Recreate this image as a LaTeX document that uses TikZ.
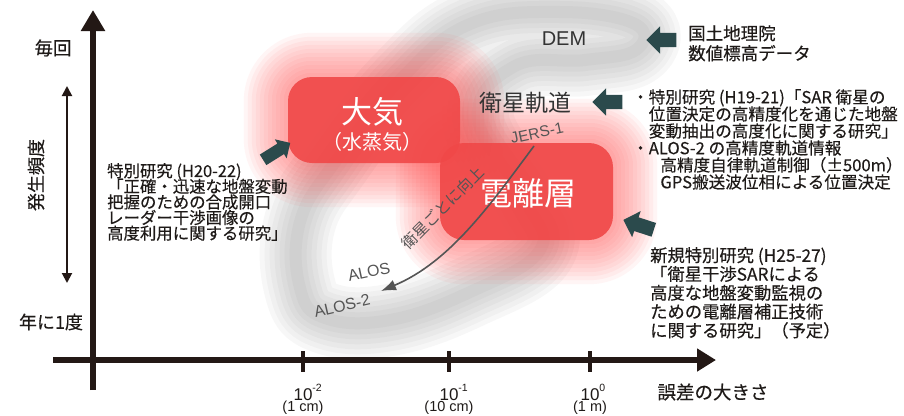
\documentclass[tikz,border=0pt]{standalone}
\usepackage{fontspec}
\setmainfont{Noto Sans CJK JP}
\newfontfamily\jpmed{Noto Sans CJK JP}[FakeBold=0.35]
\newfontfamily\latinfont{Liberation Sans}
\usetikzlibrary{arrows.meta,shapes.arrows,calc}
\definecolor{axiscol}{HTML}{231815}
\definecolor{txtcol}{HTML}{1E1A18}
\definecolor{boxred}{HTML}{F04848}
\definecolor{glowred}{HTML}{FF4040}
\definecolor{arrowcol}{HTML}{2B4A4C}
\definecolor{midgray}{HTML}{555555}
\definecolor{labgray}{HTML}{333333}
\pgfdeclarelayer{bg}
\pgfsetlayers{bg,main}
\newcommand\myfs[2]{\fontsize{#1}{#2}\selectfont\lineskiplimit=-100pt\lineskip=0pt}
\begin{document}
\begin{tikzpicture}[x=1pt,y=-1pt,
  axis/.style={line width=5.5pt, draw=axiscol},
  tickmark/.style={line width=4.3pt, draw=axiscol},
  redbox/.style={fill=boxred, fill opacity=0.9, rounded corners=24pt, draw=none, inner sep=0pt},
  boxtext/.style={text=white, inner sep=0pt},
  body/.style={align=left, anchor=north west, inner sep=0pt, text=txtcol},
  plain/.style={inner sep=0pt, text=txtcol},
  darrow/.style={single arrow, fill=arrowcol, draw=none, inner sep=0pt,
    text height=7pt, text depth=7pt, text width=0pt,
    minimum height=30pt, single arrow head extend=6.5pt, single arrow head indent=0pt},
  latin/.style={font=\latinfont\fontsize{#1}{#1}\selectfont},
]
\useasboundingbox (0,0) rectangle (904,415);

% red boxes
\node[redbox, minimum width=172pt, minimum height=86pt] (atmbox) at (374,120) {};
\node[redbox, minimum width=173pt, minimum height=97pt] (ionbox) at (526.5,191.5) {};

\begin{pgfonlayer}{bg}
  % gray blurred loop
  \foreach \w in {72,62,52,42,32,22,12}{
    \draw[black!60, opacity=0.05, line width=\w pt, line join=round]
      plot[smooth cycle, tension=0.7] coordinates {
        (470,24) (560,12) (635,24) (636,50) (585,60) (515,66) (478,118) (525,200)
        (540,250) (470,292) (390,320) (325,318) (300,288) (300,222) (335,162) (400,80)};
  }
  % red glow
  \foreach \e [evaluate=\e as \r using {24+\e}] in {4,8,...,44}{
    \fill[glowred, opacity=0.055, rounded corners=\r pt]
      ($(atmbox.north west)+(-\e,-\e)$) rectangle ($(atmbox.south east)+(\e,\e)$);
    \fill[glowred, opacity=0.055, rounded corners=\r pt]
      ($(ionbox.north west)+(-\e,-\e)$) rectangle ($(ionbox.south east)+(\e,\e)$);
  }
\end{pgfonlayer}

\node[boxtext, font=\myfs{31}{31}] (atmtext) at (372,112) {大気};
\node[boxtext, font=\myfs{20}{20}] (vaptext) at (372,142) {（水蒸気）};
\node[boxtext, font=\myfs{32}{32}] (iontext) at (528,193) {電離層};

% axes
\coordinate (ybot) at (93,390);
\coordinate (ytop) at (93,10);
\coordinate (xleft) at (53,360);
\coordinate (xright) at (716,360);
\draw[axis, -{Triangle[length=21pt,width=23pt]}] (ybot) -- (ytop);
\draw[axis, -{Triangle[length=19pt,width=22pt]}] (xleft) -- (xright);
\foreach \x/\n in {303/a,449/b,590/c}{
  \coordinate (tk\n1) at (\x,351);
  \coordinate (tk\n2) at (\x,372);
  \draw[tickmark] (tk\n1) -- (tk\n2);
}
\node[plain, latin=17] (t1) at (303,392.5) {10\rlap{\raisebox{0.55em}{\fontsize{10.5}{10.5}\selectfont -2}}};
\node[plain, latin=17] (t2) at (449,392.5) {10\rlap{\raisebox{0.55em}{\fontsize{10.5}{10.5}\selectfont -1}}};
\node[plain, latin=17] (t3) at (590,392.5) {10\rlap{\raisebox{0.55em}{\fontsize{10.5}{10.5}\selectfont 0}}};
\node[plain, latin=14.5] (c1) at (303,408) {(1 cm)};
\node[plain, latin=14.5] (c2) at (449,408) {(10 cm)};
\node[plain, latin=14.5] (c3) at (590,408) {(1 m)};
\node[plain, font=\jpmed\myfs{18.5}{18.5}] (errlab) at (713,392) {誤差の大きさ};

% y axis labels
\node[plain, font=\jpmed\myfs{18.5}{18.5}] (every) at (53,48) {毎回};
\node[plain, font=\jpmed\myfs{18}{18}] (yearly) at (51,322) {年に1度};
\node[plain, font=\jpmed\myfs{18}{18}, rotate=90] (freq) at (36,175) {発生頻度};
\coordinate (dtop) at (67,86);
\coordinate (dbot) at (67,283);
\draw[line width=2pt, draw=axiscol, {Triangle[length=10pt,width=10pt]}-{Triangle[length=10pt,width=10pt]}] (dtop) -- (dbot);

% labels in plot
\node[plain, font=\myfs{23}{23}, text=labgray] (orbit) at (525,103) {衛星軌道};
\node[plain, latin=20, text=labgray] (dem) at (564,39) {DEM};
\node[plain, latin=15.5, text=midgray, rotate=12] (jers) at (537,133) {JERS-1};
\node[plain, latin=16, text=midgray, rotate=12] (alos) at (369,272) {ALOS};
\node[plain, latin=16, text=midgray, rotate=13] (alos2) at (342,306) {ALOS-2};
\node[plain, font=\myfs{15.5}{15.5}, text=midgray, rotate=45] (improve) at (443,208) {衛星ごとに向上};
\coordinate (cs) at (534,146);
\coordinate (ce) at (381,291);
\draw[midgray, line width=1.6pt, -{Latex[length=15pt,width=11pt]}] (cs) .. controls (490,205) and (450,262) .. (ce);

% notes
\node[body, font=\jpmed\myfs{16.4}{15.6}] (leftnote) at (107,163)
  {特別研究 (H20-22)\\「正確・迅速な地盤変動\\把握のための合成開口\\レーダー干渉画像の\\高度利用に関する研究」};
\node[body, font=\jpmed\myfs{17.5}{20}] (demnote) at (688,25) {国土地理院\\数値標高データ};
\node[body, font=\jpmed\myfs{16.6}{17}] (orbitnote) at (632,89)
  {・特別研究 (H19-21)「SAR 衛星の\\\hspace*{1em}位置決定の高精度化を通じた地盤\\\hspace*{1em}変動抽出の高度化に関する研究」\\・ALOS-2 の高精度軌道情報\\\hspace*{1.7em}高精度自律軌道制御（±500m）\\\hspace*{1.7em}GPS搬送波位相による位置決定};
\node[body, font=\jpmed\myfs{17.3}{18.8}] (ionnote) at (650,247)
  {新規特別研究 (H25-27)\\「衛星干渉SARによる\\高度な地盤変動監視の\\ための電離層補正技術\\に関する研究」（予定）};

% dark block arrows
\node[darrow, rotate=180] (demarrow) at (665,40) {};
\node[darrow, rotate=180] (orbitarrow) at (611,102) {};
\node[darrow, rotate=32, minimum height=32pt, text height=6pt, text depth=6pt, single arrow head extend=5pt] (atmarrow) at (274,153) {};
\node[darrow, rotate=162, minimum height=32pt] (ionarrow) at (642,226) {};
\end{tikzpicture}
\end{document}
